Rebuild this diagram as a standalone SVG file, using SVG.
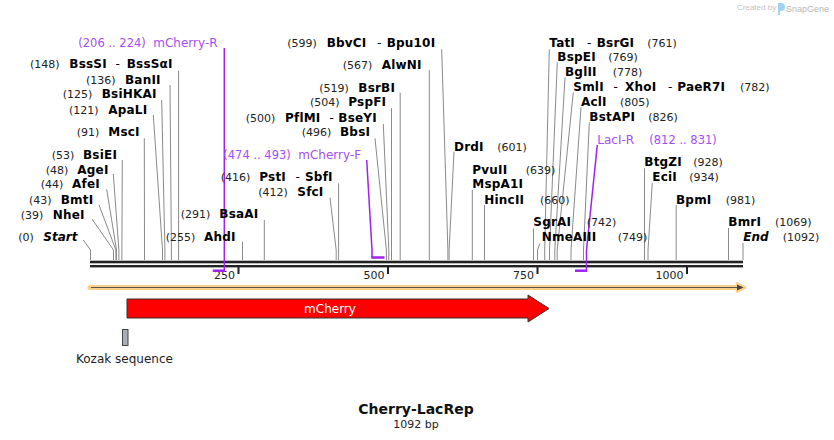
<svg xmlns="http://www.w3.org/2000/svg" width="834" height="440" viewBox="0 0 834 440">
<style>
text{font-family:"DejaVu Sans",Verdana,sans-serif}
.n{font-size:11px;fill:#222}
.e{font-size:12px;font-weight:bold;fill:#000;letter-spacing:0.2px}
.ei{font-size:12px;font-weight:bold;font-style:italic;fill:#000}
.d{font-size:12px;fill:#000}
.pn{font-size:11.5px;fill:#a64ef2}
.pt{font-size:12px;fill:#a64ef2}
.l{stroke:#8a8a8a;stroke-width:1;fill:none}
.pl{stroke:#a020f0;stroke-width:1.5;fill:none}
.pb{stroke:#a020f0;stroke-width:2.5;fill:none}
.tk{stroke:#222;stroke-width:2}
.tl{font-size:11px;fill:#222}
.lg{font-family:"Liberation Sans",Arial,sans-serif}
</style>
<rect width="834" height="440" fill="#fff"/>

<g id="logo">
<text class="lg" x="737" y="10" font-size="8" fill="#c4c4c4">Created by</text>
<path d="M778,3 h3 a4,4 0 0 1 0,8 h-1 v4 h-2 z" fill="#9fd5f3"/>
<text class="lg" x="786" y="11.5" font-size="9" fill="#b8b8b8">SnapGene</text>
</g>

<g id="axis">
<rect x="90" y="260.7" width="653" height="2.6" fill="#222"/>
<rect x="90" y="265" width="653" height="2.4" fill="#222"/>
<line class="tk" x1="238.5" y1="267" x2="238.5" y2="274"/>
<line class="tk" x1="388" y1="267" x2="388" y2="274"/>
<line class="tk" x1="537.5" y1="267" x2="537.5" y2="274"/>
<line class="tk" x1="687" y1="267" x2="687" y2="274"/>
<text class="tl" x="235" y="279" text-anchor="end">250</text>
<text class="tl" x="384.5" y="279" text-anchor="end">500</text>
<text class="tl" x="534" y="279" text-anchor="end">750</text>
<text class="tl" x="683.5" y="279" text-anchor="end">1000</text>
</g>

<g id="connectors">
<polyline class="l" points="178.6,70.7 178.6,260"/>
<polyline class="l" points="170,85 171.4,250 171.4,260"/>
<polyline class="l" points="161.7,100 164.9,250 164.9,260"/>
<polyline class="l" points="153.3,115 162.5,250 162.5,260"/>
<polyline class="l" points="144.3,138.3 144.5,250 144.5,260"/>
<polyline class="l" points="122.3,160 121.9,250 121.9,260"/>
<polyline class="l" points="113.3,174 118.9,250 118.9,260"/>
<polyline class="l" points="106.7,189.3 116.5,250 116.5,260"/>
<polyline class="l" points="99,205 115.9,250 115.9,260"/>
<polyline class="l" points="92,219 113.5,250 113.5,260"/>
<polyline class="l" points="83.3,240 90.5,250 90.5,260"/>
<polyline class="l" points="264.3,220 264.3,260"/>
<polyline class="l" points="242.5,241.7 242.5,260"/>
<polyline class="l" points="330,197.7 336.2,250 336.2,260"/>
<polyline class="l" points="338.6,183.3 338.6,260"/>
<polyline class="l" points="375,138.3 386.4,250 386.4,260"/>
<polyline class="l" points="383.3,124 388.8,250 388.8,260"/>
<polyline class="l" points="391.5,108.3 391.5,260"/>
<polyline class="l" points="400.2,92.7 400.2,260"/>
<polyline class="l" points="429.3,70 429.3,260"/>
<polyline class="l" points="441.7,49.3 447.9,250 447.9,260"/>
<polyline class="l" points="454,151.7 449.1,250 449.1,260"/>
<polyline class="l" points="472.3,190 472.3,260"/>
<polyline class="l" points="484.5,205 484.5,260"/>
<polyline class="l" points="533.5,228.3 533.5,260"/>
<polyline class="l" points="540,243.3 537.5,250 537.5,260"/>
<polyline class="l" points="549.3,49.3 544.7,250 544.7,260"/>
<polyline class="l" points="557.3,62.3 549.5,250 549.5,260"/>
<polyline class="l" points="565,77.3 554.8,250 554.8,260"/>
<polyline class="l" points="573.3,92.3 557.2,250 557.2,260"/>
<polyline class="l" points="581,107.3 571,250 571,260"/>
<polyline class="l" points="589.3,122.3 583.5,250 583.5,260"/>
<polyline class="l" points="644.5,168.3 644.5,260"/>
<polyline class="l" points="652.3,182.7 648,250 648,260"/>
<polyline class="l" points="676.2,205 676.2,260"/>
<polyline class="l" points="728.5,228 728.5,260"/>
<polyline class="l" points="743,243 743,260"/>
<polyline class="pl" points="224.3,48 224.3,270"/>
<polyline class="pl" points="366.7,160 372,250 372,257"/>
<polyline class="pl" points="597.3,145 586.5,250 586.5,270"/>
</g>

<g id="primer-mCherry-R">
<line class="pb" x1="212.7" y1="270.7" x2="225" y2="270.7"/>
<text class="pn" x="78.3" y="46.5">(206 .. 224)</text>
<text class="pt" x="153.3" y="46.5">mCherry-R</text>
</g>
<g id="primer-mCherry-F">
<line class="pb" x1="371.3" y1="257.5" x2="384.5" y2="257.5"/>
<text class="pn" x="223.3" y="158.5">(474 .. 493)</text>
<text class="pt" x="298.3" y="158.5">mCherry-F</text>
</g>
<g id="primer-LacI-R">
<line class="pb" x1="575" y1="270.7" x2="587.2" y2="270.7"/>
<text class="pt" x="597.3" y="143.5">LacI-R</text>
<text class="pn" x="649.3" y="143.5">(812 .. 831)</text>
</g>

<g id="BssSI"><text class="n" x="30" y="68">(148)</text><text class="e" x="69.3" y="68">BssSI</text><text class="d" x="115.5" y="68">-</text><text class="e" x="126.7" y="68">BssSαI</text></g>
<g id="BanII"><text class="n" x="86" y="83.5">(136)</text><text class="e" x="125" y="83.5">BanII</text></g>
<g id="BsiHKAI"><text class="n" x="62.7" y="98">(125)</text><text class="e" x="101.7" y="98">BsiHKAI</text></g>
<g id="ApaLI"><text class="n" x="69" y="113.5">(121)</text><text class="e" x="108.3" y="113.5">ApaLI</text></g>
<g id="MscI"><text class="n" x="76.7" y="135.5">(91)</text><text class="e" x="108.3" y="135.5">MscI</text></g>
<g id="BsiEI"><text class="n" x="51.7" y="158.5">(53)</text><text class="e" x="83" y="158.5">BsiEI</text></g>
<g id="AgeI"><text class="n" x="45.7" y="173.5">(48)</text><text class="e" x="77.3" y="173.5">AgeI</text></g>
<g id="AfeI"><text class="n" x="40.7" y="188">(44)</text><text class="e" x="72" y="188">AfeI</text></g>
<g id="BmtI"><text class="n" x="29" y="203.5">(43)</text><text class="e" x="60.7" y="203.5">BmtI</text></g>
<g id="NheI"><text class="n" x="20.7" y="218.5">(39)</text><text class="e" x="52.7" y="218.5">NheI</text></g>
<g id="Start"><text class="n" x="18.3" y="241">(0)</text><text class="ei" x="43.3" y="241">Start</text></g>
<g id="BsaAI"><text class="n" x="180.7" y="218">(291)</text><text class="e" x="219.3" y="218">BsaAI</text></g>
<g id="AhdI"><text class="n" x="165.7" y="241">(255)</text><text class="e" x="204" y="241">AhdI</text></g>
<g id="PstI"><text class="n" x="220.7" y="181">(416)</text><text class="e" x="259.3" y="181">PstI</text><text class="d" x="295.5" y="181">-</text><text class="e" x="305" y="181">SbfI</text></g>
<g id="SfcI"><text class="n" x="258.3" y="196">(412)</text><text class="e" x="297.3" y="196">SfcI</text></g>
<g id="BbvCI"><text class="n" x="287.3" y="46.5">(599)</text><text class="e" x="326.7" y="46.5">BbvCI</text><text class="d" x="377" y="46.5">-</text><text class="e" x="386.7" y="46.5">Bpu10I</text></g>
<g id="AlwNI"><text class="n" x="342.7" y="68.5">(567)</text><text class="e" x="381.7" y="68.5">AlwNI</text></g>
<g id="BsrBI"><text class="n" x="319.3" y="91.5">(519)</text><text class="e" x="358.3" y="91.5">BsrBI</text></g>
<g id="PspFI"><text class="n" x="310" y="106">(504)</text><text class="e" x="348.3" y="106">PspFI</text></g>
<g id="PflMI"><text class="n" x="245.7" y="121.5">(500)</text><text class="e" x="285" y="121.5">PflMI</text><text class="d" x="329.5" y="121.5">-</text><text class="e" x="338.3" y="121.5">BseYI</text></g>
<g id="BbsI"><text class="n" x="301.7" y="136">(496)</text><text class="e" x="340" y="136">BbsI</text></g>

<g id="TatI"><text class="e" x="549.3" y="46.5">TatI</text><text class="d" x="587" y="46.5">-</text><text class="e" x="596.7" y="46.5">BsrGI</text><text class="n" x="647.3" y="46.5">(761)</text></g>
<g id="BspEI"><text class="e" x="557.3" y="61">BspEI</text><text class="n" x="608.3" y="61">(769)</text></g>
<g id="BglII"><text class="e" x="565" y="76">BglII</text><text class="n" x="612.7" y="76">(778)</text></g>
<g id="SmlI"><text class="e" x="573.3" y="91">SmlI</text><text class="d" x="613.5" y="91">-</text><text class="e" x="625" y="91">XhoI</text><text class="d" x="668" y="91">-</text><text class="e" x="677.3" y="91">PaeR7I</text><text class="n" x="740" y="91">(782)</text></g>
<g id="AclI"><text class="e" x="581" y="106">AclI</text><text class="n" x="620" y="106">(805)</text></g>
<g id="BstAPI"><text class="e" x="589.3" y="121">BstAPI</text><text class="n" x="648.3" y="121">(826)</text></g>
<g id="DrdI"><text class="e" x="454" y="151">DrdI</text><text class="n" x="497.3" y="151">(601)</text></g>
<g id="PvuII"><text class="e" x="472.3" y="173.5">PvuII</text><text class="n" x="525.7" y="173.5">(639)</text><text class="e" x="472.3" y="188">MspA1I</text></g>
<g id="HincII"><text class="e" x="484.3" y="203.5">HincII</text><text class="n" x="540" y="203.5">(660)</text></g>
<g id="SgrAI"><text class="e" x="533.3" y="226">SgrAI</text><text class="n" x="586.7" y="226">(742)</text></g>
<g id="NmeAIII"><text class="e" x="541.7" y="241">NmeAIII</text><text class="n" x="617.7" y="241">(749)</text></g>
<g id="BtgZI"><text class="e" x="644.3" y="166">BtgZI</text><text class="n" x="693.3" y="166">(928)</text></g>
<g id="EciI"><text class="e" x="652.3" y="181">EciI</text><text class="n" x="689.3" y="181">(934)</text></g>
<g id="BpmI"><text class="e" x="676" y="203.5">BpmI</text><text class="n" x="725.7" y="203.5">(981)</text></g>
<g id="BmrI"><text class="e" x="728.3" y="226">BmrI</text><text class="n" x="775" y="226">(1069)</text></g>
<g id="End"><text class="ei" x="743.3" y="241">End</text><text class="n" x="782.7" y="241">(1092)</text></g>

<g id="feature-whole">
<path d="M90,287.5 H741" stroke="#f9cf8a" stroke-width="5" stroke-linecap="round" fill="none"/>
<path d="M736,283 L745,287.5 L736,292" stroke="#f9cf8a" stroke-width="3" fill="none" stroke-linejoin="round"/>
<line x1="91" y1="287.5" x2="740" y2="287.5" stroke="#555" stroke-width="1.2"/>
<path d="M737,284.5 L743.5,287.5 L737,290.5 Z" fill="#444"/>
</g>

<g id="feature-mCherry">
<path d="M127,299 H528 V295 L549,308.5 L528,322 V318 H127 Z" fill="#ff0000" stroke="#333" stroke-width="1"/>
<text x="330" y="312.5" font-size="12" fill="#fff" text-anchor="middle">mCherry</text>
</g>

<g id="feature-Kozak">
<rect x="122.5" y="329.5" width="5.5" height="16" fill="#a9aeb6" stroke="#444" stroke-width="1"/>
<text x="76" y="363" font-size="12" fill="#222">Kozak sequence</text>
</g>

<g id="title">
<text x="416" y="413.5" font-size="14" font-weight="bold" fill="#111" text-anchor="middle">Cherry-LacRep</text>
<text x="416" y="427.5" font-size="11" fill="#222" text-anchor="middle">1092 bp</text>
</g>
</svg>
